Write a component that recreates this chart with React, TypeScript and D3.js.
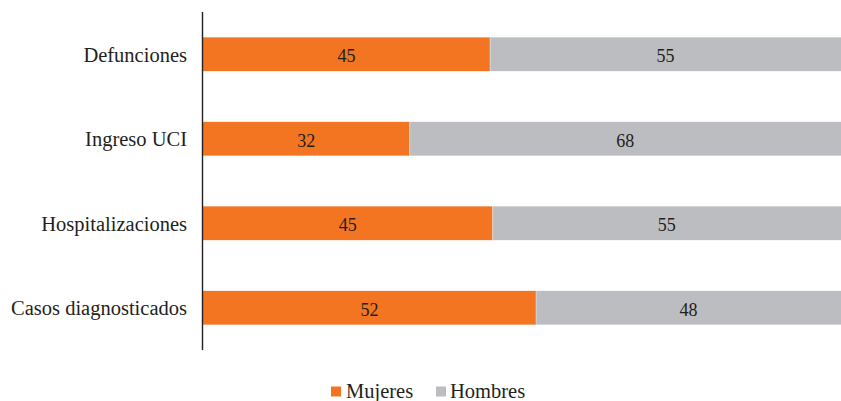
import React from 'react';
import * as d3 from 'd3';

const categories = ['Defunciones', 'Ingreso UCI', 'Hospitalizaciones', 'Casos diagnosticados'];
const mujeres = [45.0, 32.4, 45.4, 52.2];
const hombres = [55.0, 67.6, 54.6, 47.8];
const seriesNames = ['Mujeres', 'Hombres'];
const colors = ['#F37521', '#BCBDC0'];

const width = 841;
const height = 401;
const font = 'Liberation Serif';

const App: React.FC = () => {
  const x = d3.scaleLinear().domain([0, 100]).range([203, 841]);
  const y = d3.scaleBand<string>().domain(categories).range([12, 350]).paddingInner(0.6).paddingOuter(0.3);
  const fmt = d3.format('.0f');

  const rows = categories.map((c, i) => ({ cat: c, m: mujeres[i], h: hombres[i] }));

  return (
    <svg width={width} height={height} style={{ position: 'absolute', left: 0, top: 0 }}>
      {rows.map((d) => {
        const y0 = y(d.cat)!;
        const bw = y.bandwidth();
        const cy = y0 + bw / 2;
        return (
          <g key={d.cat}>
            <rect x={x(0)} y={y0} width={x(d.m) - x(0)} height={bw} fill={colors[0]} />
            <rect x={x(d.m)} y={y0} width={x(d.m + d.h) - x(d.m)} height={bw} fill={colors[1]} />
            <line x1={x(d.m)} x2={x(d.m)} y1={y0} y2={y0 + bw} stroke="#fff" strokeOpacity={0.5} strokeWidth={0.8} />
            <text x={(x(0) + x(d.m)) / 2} y={cy} dy="0.45em" textAnchor="middle" fontFamily={font} fontSize={18} fill="#231f20">
              {fmt(d.m)}
            </text>
            <text x={(x(d.m) + x(d.m + d.h)) / 2} y={cy} dy="0.45em" textAnchor="middle" fontFamily={font} fontSize={18} fill="#231f20">
              {fmt(d.h)}
            </text>
            <text x={187} y={cy} dy="0.36em" textAnchor="end" fontFamily={font} fontSize={20.5} fill="#231f20">
              {d.cat}
            </text>
          </g>
        );
      })}
      <line x1={202.5} x2={202.5} y1={12} y2={350} stroke="#231f20" strokeWidth={1.4} />
      <g>
        <rect x={331} y={386.5} width={10} height={10} fill={colors[0]} />
        <text x={346} y={397.5} fontFamily={font} fontSize={20.5} fill="#231f20">{seriesNames[0]}</text>
        <rect x={436} y={386.5} width={10} height={10} fill={colors[1]} />
        <text x={450} y={397.5} fontFamily={font} fontSize={20.5} fill="#231f20">{seriesNames[1]}</text>
      </g>
    </svg>
  );
};

export default App;
